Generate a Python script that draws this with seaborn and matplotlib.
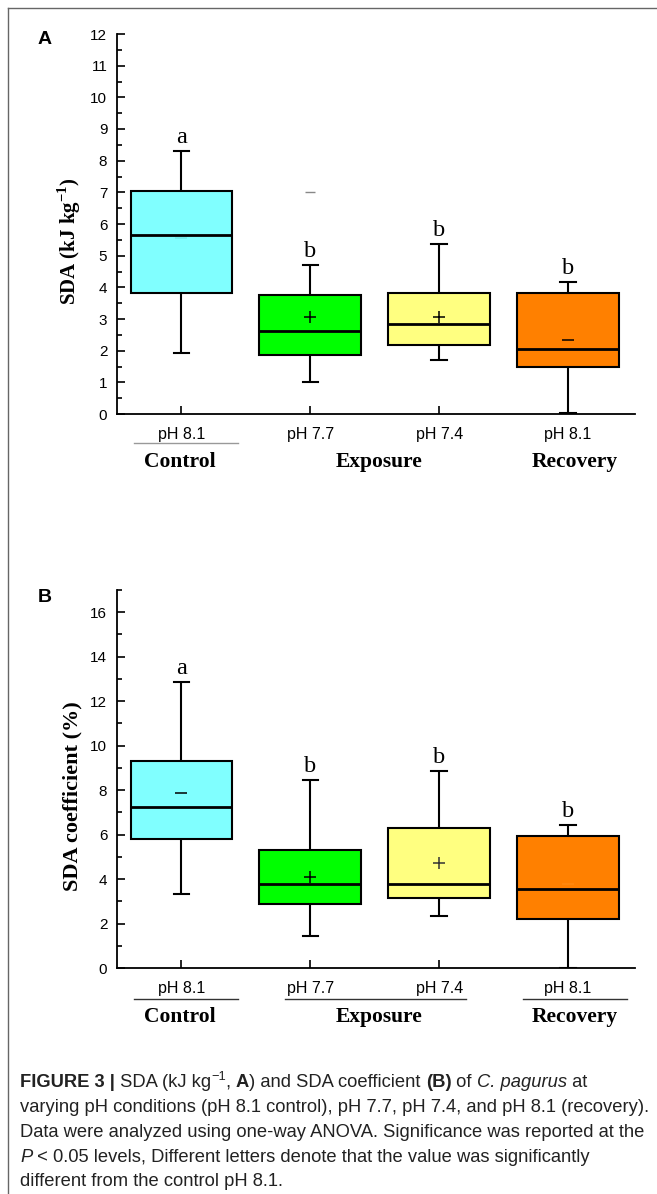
import numpy as np
import pandas as pd
import matplotlib
matplotlib.use("Agg")
import matplotlib.pyplot as plt
import seaborn as sns
from matplotlib.ticker import MultipleLocator
from matplotlib.lines import Line2D

# ---------------- data ----------------
categories = ["Control pH 8.1", "Exposure pH 7.7", "Exposure pH 7.4", "Recovery pH 8.1"]
tick_labels = ["pH 8.1", "pH 7.7", "pH 7.4", "pH 8.1"]
box_colors = ["#80FFFF", "#00FF00", "#FFFF80", "#FF8000"]
group_names = ["Control", "Exposure", "Recovery"]

# Panel A: SDA (kJ kg-1)
a_whisker_low = [1.93, 1.00, 1.70, 0.02]
a_q1 = [3.82, 1.87, 2.17, 1.50]
a_median = [5.65, 2.63, 2.85, 2.05]
a_q3 = [7.05, 3.77, 3.82, 3.82]
a_whisker_high = [8.30, 4.70, 5.38, 4.17]
a_mean = [5.55, 3.05, 3.05, 2.35]
a_mean_marker = ["_", "+", "+", "_"]
a_mean_color = ["#70e8e8", "black", "black", "black"]
a_extreme = [np.nan, 7.0, np.nan, np.nan]
a_letters = ["a", "b", "b", "b"]

# Panel B: SDA coefficient (%)
b_whisker_low = [3.35, 1.45, 2.35, 0.00]
b_q1 = [5.80, 2.90, 3.15, 2.20]
b_median = [7.25, 3.80, 3.80, 3.55]
b_q3 = [9.30, 5.30, 6.30, 5.95]
b_whisker_high = [12.85, 8.45, 8.85, 6.45]
b_mean = [7.85, 4.10, 4.70, 3.80]
b_mean_marker = ["_", "+", "+", "_"]
b_mean_color = ["black", "black", "#333333", "#ff8a10"]
b_letters = ["a", "b", "b", "b"]

W, H = 657, 1194
plt.rcParams["font.family"] = ["Liberation Sans", "DejaVu Sans"]
plt.rcParams["mathtext.fontset"] = "custom"
plt.rcParams["mathtext.rm"] = "Liberation Serif:bold"
plt.rcParams["mathtext.bf"] = "Liberation Serif:bold"

fig = plt.figure(figsize=(W / 100, H / 100), dpi=100)


def fx(px):
    return px / W


def fy(py):
    return 1 - py / H


def make_df(lo, q1, med, q3, hi):
    rows = []
    for c, a, b, m, d, e in zip(categories, lo, q1, med, q3, hi):
        for v in (a, b, m, d, e):
            rows.append({"cat": c, "val": v})
    return pd.DataFrame(rows)


def panel(ax, df, means, markers, mcolors, letters, tops, ylim, major, minor, ylabel, ylabel_size):
    sns.boxplot(data=df, x="cat", y="val", hue="cat", order=categories, hue_order=categories,
                palette=box_colors, saturation=1, whis=(0, 100), width=0.79,
                linecolor="black", linewidth=1.5, showfliers=False, legend=False, ax=ax,
                capwidths=0.12, medianprops={"linewidth": 2.0})
    xs = np.arange(len(categories))
    for x, m, mk, mc in zip(xs, means, markers, mcolors):
        ax.plot([x], [m], marker=mk, color=mc, markersize=9, markeredgewidth=1.1, zorder=5)
    for x, t, l in zip(xs, tops, letters):
        ax.annotate(l, (x, t), xytext=(0, 2), textcoords="offset points", ha="center",
                    va="bottom", fontsize=17.5, family="Liberation Serif")
    ax.set_xlim(-0.5, 3.52)
    ax.set_ylim(*ylim)
    ax.yaxis.set_major_locator(MultipleLocator(major))
    ax.yaxis.set_minor_locator(MultipleLocator(minor))
    ax.set_xticks(xs)
    ax.set_xticklabels(tick_labels, fontsize=11.5)
    ax.tick_params(axis="y", which="major", direction="in", length=6, width=1.2, labelsize=11, pad=7)
    ax.tick_params(axis="y", which="minor", direction="in", length=3.5, width=1.2)
    ax.tick_params(axis="x", which="major", direction="in", length=6, width=1.2, pad=9)
    for s in ("top", "right"):
        ax.spines[s].set_visible(False)
    for s in ("left", "bottom"):
        ax.spines[s].set_linewidth(1.3)
    ax.set_xlabel("")
    ax.set_ylabel(ylabel, fontsize=ylabel_size, family="Liberation Serif", fontweight="bold", labelpad=4)
    ax.yaxis.set_label_coords(-0.066, 0.455)


# Panel A
axA = fig.add_axes([fx(117), fy(414), fx(635) - fx(117), (414 - 34) / H])
panel(axA, make_df(a_whisker_low, a_q1, a_median, a_q3, a_whisker_high), a_mean, a_mean_marker,
      a_mean_color, a_letters, a_whisker_high, (0, 12), 1, 0.5,
      "SDA (kJ kg$^{\\mathbf{-1}}$)", 15)
axA.plot(np.arange(len(categories)), a_extreme, marker="_", color="#888888", markersize=7,
         markeredgewidth=1.0, linestyle="none", zorder=5)

# Panel B
axB = fig.add_axes([fx(117), fy(968), fx(635) - fx(117), (968 - 590) / H])
panel(axB, make_df(b_whisker_low, b_q1, b_median, b_q3, b_whisker_high), b_mean, b_mean_marker,
      b_mean_color, b_letters, b_whisker_high, (0, 17), 2, 1,
      "SDA coefficient (%)", 16)

# panel letters
fig.text(fx(38), fy(40), "A", fontsize=14, fontweight="bold", va="center", ha="left")
fig.text(fx(38), fy(598), "B", fontsize=14, fontweight="bold", va="center", ha="left")

# group annotations
gx = [180, 379, 575]
for name, x in zip(group_names, gx):
    fig.text(fx(x), fy(462), name, fontsize=15.5, family="Liberation Serif", fontweight="bold",
             ha="center", va="center")
    fig.text(fx(x), fy(1017), name, fontsize=15.5, family="Liberation Serif", fontweight="bold",
             ha="center", va="center")
fig.add_artist(Line2D([fx(134), fx(238)], [fy(443), fy(443)], color="#999999", lw=1.0))
for x0, x1 in [(134, 238), (285, 466), (523, 627)]:
    fig.add_artist(Line2D([fx(x0), fx(x1)], [fy(999), fy(999)], color="#333333", lw=1.0))

# frame
fig.add_artist(Line2D([fx(8), fx(8)], [fy(8), fy(1194)], color="#666666", lw=1.0))
fig.add_artist(Line2D([fx(8), fx(657)], [fy(8), fy(8)], color="#666666", lw=1.0))

# caption
cap_size = 13.2
renderer = fig.canvas.get_renderer()


def runs_line(y, runs):
    x = 20
    for text, kw in runs:
        kw = dict(kw)
        size = cap_size
        dy = 0
        if kw.pop("sup", False):
            size = cap_size * 0.7
            dy = -7
        t = fig.text(fx(x), fy(y + dy), text, fontsize=size, va="baseline", ha="left",
                     color="#222222", **kw)
        x += t.get_window_extent(renderer).width


N = {}
B = {"fontweight": "bold"}
I = {"style": "italic"}
runs_line(1087, [("FIGURE 3 |", B), (" SDA (kJ kg", N), ("\u22121", {"sup": True}), (", ", N),
                 ("A", B), (") and SDA coefficient ", N), ("(B)", B), (" of ", N),
                 ("C. pagurus", I), (" at", N)])
runs_line(1112, [("varying pH conditions (pH 8.1 control), pH 7.7, pH 7.4, and pH 8.1 (recovery).", N)])
runs_line(1137, [("Data were analyzed using one-way ANOVA. Significance was reported at the", N)])
runs_line(1162, [("P", I), (" < 0.05 levels, Different letters denote that the value was significantly", N)])
runs_line(1186, [("different from the control pH 8.1.", N)])

fig.savefig("out.png", dpi=100)
